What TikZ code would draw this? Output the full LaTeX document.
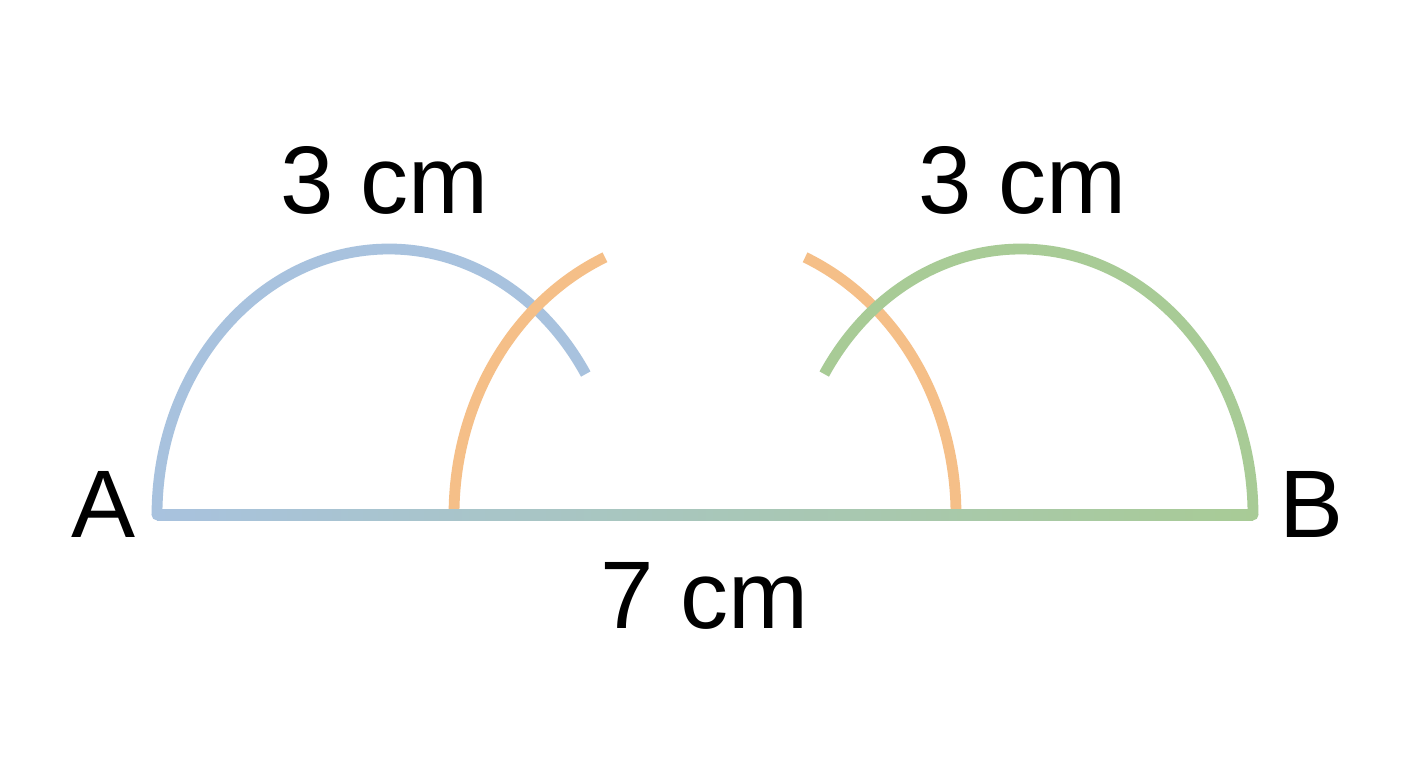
\documentclass[tikz,border=0pt]{standalone}
\usepackage{fontspec}
\setmainfont{Liberation Sans}
\definecolor{arcblue}{HTML}{A8C2DE}
\definecolor{arcorange}{HTML}{F5BF88}
\definecolor{arcgreen}{HTML}{A8CB96}
\begin{document}
\begin{tikzpicture}[x=0.5pt,y=0.5pt,
  arcline/.style={line width=5.4pt, line cap=butt},
  lbl/.style={font=\fontsize{48}{58}\selectfont, anchor=base, inner sep=0pt}]
\fill[white] (0,0) rectangle (1408,768);
\useasboundingbox (0,0) rectangle (1408,768);
\coordinate (A) at (157,253);
\coordinate (B) at (1253,253);
% arcs
\draw[arcline, arcblue] (A) arc[start angle=180, end angle=32, x radius=232, y radius=266];
\draw[arcline, arcorange] (454,253) arc[start angle=180, end angle=113.5, x radius=251, y radius=281];
\draw[arcline, arcorange] (956,253) arc[start angle=0, end angle=66.5, x radius=251, y radius=281];
\draw[arcline, arcgreen] (B) arc[start angle=0, end angle=148, x radius=232, y radius=266];
% segment AB
\shade[left color=arcblue, right color=arcgreen] ([yshift=-2.7pt]A) rectangle ([yshift=2.7pt]B);
\fill[arcblue] (A) circle[radius=2.7pt];
\fill[arcgreen] (B) circle[radius=2.7pt];
% labels
\node[lbl] (lblA) at (104,231) {A};
\node[lbl] (lblB) at (1311,231) {B};
\node[lbl] (lblL) at (385,555) {3 cm};
\node[lbl] (lblR) at (1023,555) {3 cm};
\node[lbl] (lblAB) at (705,140) {7 cm};
\end{tikzpicture}
\end{document}
